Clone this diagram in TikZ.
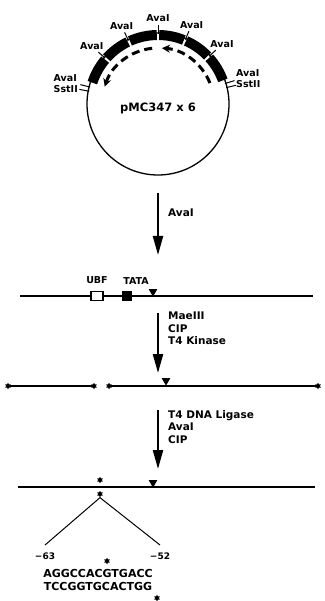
\documentclass[tikz,border=0pt]{standalone}
\usepackage{fontspec}
\setmainfont{DejaVu Sans}
\usetikzlibrary{positioning,arrows.meta,shapes.geometric}

\tikzset{
  lbl/.style={font=\bfseries\fontsize{9.5}{11}\selectfont, inner sep=0pt},
  steplbl/.style={anchor=north west, align=left, inner sep=0pt,
    font=\bfseries\fontsize{10.5}{12.5}\selectfont},
  stepar/.style={line width=2.2pt, -{Triangle[length=19pt,width=10pt]}},
  dna/.style={line width=1.8pt},
  repdir/.style={line width=3pt, dash pattern=on 8pt off 5pt,
    -{Stealth[length=8pt,width=8pt]}},
  cutsite/.style={regular polygon, regular polygon sides=3, shape border rotate=180,
    fill, inner sep=0pt, minimum size=10pt, anchor=corner 1},
  endmark/.style={star, star points=6, star point ratio=1.7, fill, inner sep=0pt,
    minimum size=6.5pt},
}

\begin{document}
\begin{tikzpicture}[x=1pt,y=1pt]
\useasboundingbox (0,0) rectangle (324,-601);

% plasmid with the six repeats
\coordinate (c) at (158,-104);
\draw[line width=1.3pt] (c) circle[radius=71];
\node[font=\bfseries\fontsize{11.5}{14}\selectfont] (pname) at (158,-108) {pMC347 x 6};
\foreach \a/\b in {20/42, 44/66, 68/89, 91/114, 116/138, 140/162}
  \draw[line width=10pt] ([shift={(\a:69)}]c) arc[start angle=\a, end angle=\b, radius=69];
\foreach \a in {43,67,90,115,139}
  \draw[line width=1pt] ([shift={(\a:70)}]c) -- ([shift={(\a:79)}]c);
\foreach \a in {13.5,17,166,169.5}
  \draw[line width=1pt] ([shift={(\a:70)}]c) -- ([shift={(\a:80)}]c);
\foreach \a [evaluate=\a as \opp using {int(\a+180)}] in {43,67,90,115,139}
  \node[lbl, anchor=\opp] (ava\a) at ([shift={(\a:82)}]c) {AvaI};
\node[lbl, anchor=east, align=left] (avaL) at (78,-84) {AvaI\\SstII};
\node[lbl, anchor=west, align=left] (avaR) at (236,-79) {AvaI\\SstII};
% direction of the repeats
\draw[repdir] ([shift={(22:56)}]c) arc[start angle=22, end angle=86, radius=56];
\draw[repdir] ([shift={(96:56)}]c) arc[start angle=96, end angle=162, radius=56];

% step 1
\coordinate (s1a) at (158,-193);
\coordinate (s1b) at (158,-255);
\draw[stepar] (s1a) -- (s1b);
\node[steplbl] (enz1) at (168,-209) {AvaI};

% fragment
\coordinate (f1a) at (20,-296);
\coordinate (f1b) at (313,-296);
\draw[dna] (f1a) -- (f1b);
\node[draw, line width=1.3pt, fill=white, minimum width=12pt, minimum height=9pt, inner sep=0pt] (ubf) at (97,-296) {};
\node[fill, minimum width=10pt, minimum height=10pt, inner sep=0pt] (tata) at (127,-296) {};
\node[lbl, above=7pt of ubf] (ubflbl) {UBF};
\node[lbl, above=6.5pt of tata, xshift=9pt] (tatalbl) {TATA};
\node[cutsite] (cut1) at (153,-297) {};

% step 2
\coordinate (s2a) at (158,-313);
\coordinate (s2b) at (158,-373);
\draw[stepar] (s2a) -- (s2b);
\node[steplbl] (enz2) at (168,-312) {MaeIII\\CIP\\T4 Kinase};

% cut fragments
\node[endmark] (e1) at (8,-386) {};
\node[endmark] (e2) at (94,-386) {};
\node[endmark] (e3) at (109,-386) {};
\node[endmark] (e4) at (318,-386) {};
\draw[line width=1.3pt] (e1) -- (e2);
\draw[line width=1.3pt] (e3) -- (e4);
\node[cutsite] (cut2) at (166,-386) {};

% step 3
\coordinate (s3a) at (158,-410);
\coordinate (s3b) at (158,-469);
\draw[stepar] (s3a) -- (s3b);
\node[steplbl] (enz3) at (168,-410) {T4 DNA Ligase\\AvaI\\CIP};

% multimer
\coordinate (f3a) at (18,-487);
\coordinate (f3b) at (315,-487);
\draw[dna] (f3a) -- (f3b);
\node[endmark] (j1) at (100,-480) {};
\node[endmark] (j2) at (100,-494) {};
\node[cutsite] (cut3) at (153,-488) {};

% junction sequence
\coordinate (fl) at (45,-545);
\coordinate (fr) at (160,-545);
\draw[line width=1pt] (fl) -- (j2.south) -- (fr);
\node[lbl, font=\bfseries\fontsize{9}{10}\selectfont] (p63) at (45,-556) {−63};
\node[lbl, font=\bfseries\fontsize{9}{10}\selectfont] (p52) at (160,-556) {−52};
\node[font=\bfseries\fontsize{11}{13}\selectfont, align=center, inner sep=0pt] (seq) at (98,-580) {AGGCCACGTGACC\\TCCGGTGCACTGG};
\node[endmark] (j3) at (107,-561) {};
\node[endmark] (j4) at (157,-598) {};
\end{tikzpicture}
\end{document}
